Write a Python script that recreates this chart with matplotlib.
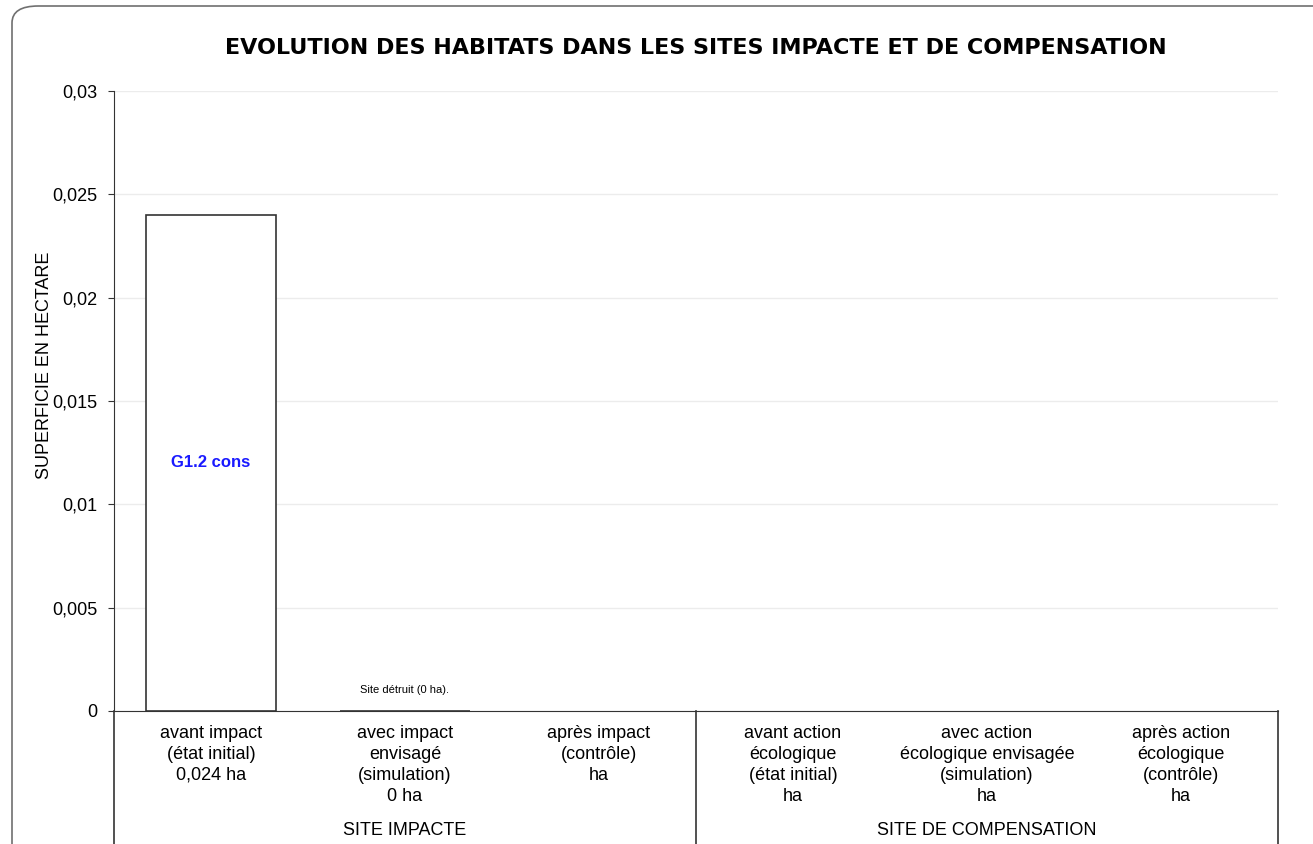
import matplotlib.pyplot as plt
from matplotlib.patches import FancyBboxPatch
import numpy as np

# donnees
etapes = ["avant impact\n(état initial)", "avec impact\nenvisagé\n(simulation)", "après impact\n(contrôle)",
          "avant action\nécologique\n(état initial)", "avec action\nécologique envisagée\n(simulation)",
          "après action\nécologique\n(contrôle)"]
surfaces = [0.024, 0.0, np.nan, np.nan, np.nan, np.nan]
surfaces_txt = ["0,024 ha", "0 ha", "ha", "ha", "ha", "ha"]
habitat = "G1.2 cons"
groupes = ["SITE IMPACTE", "SITE DE COMPENSATION"]
yticks = [0, 0.005, 0.01, 0.015, 0.02, 0.025, 0.03]

plt.rcParams['font.family'] = ['Liberation Sans', 'DejaVu Sans']

fig = plt.figure(figsize=(13.13, 8.44), dpi=100)
ax = fig.add_axes([0.0868, 0.1576, 0.8865, 0.7346])

# cadre arrondi autour du graphique
cadre = FancyBboxPatch((12 / 1313, -0.05), 1.05, 1 - 6 / 844 + 0.05, boxstyle="round,pad=0,rounding_size=0.02",
                       transform=fig.transFigure, fill=False, edgecolor='#707070', linewidth=1.2, clip_on=False)
fig.patches.append(cadre)

x = np.arange(len(etapes))
ax.bar(x, surfaces, width=0.67, color='white', edgecolor='#333333', linewidth=1.2, zorder=2)
ax.text(0, surfaces[0] / 2, habitat, color='#1a1aff', fontsize=12, fontweight='bold', ha='center', va='center', zorder=4)
ax.text(1, 0.00075, "Site détruit (0 ha).", fontsize=8, ha='center', va='bottom')

ax.set_xlim(-0.5, 5.5)
ax.set_ylim(0, 0.03)
ax.set_yticks(yticks)
ax.set_yticklabels([f"{v:g}".replace('.', ',') for v in yticks], fontsize=13)
ax.grid(axis='y', color='#ececec', linewidth=1, zorder=0)
ax.set_xticks([])
ax.tick_params(axis='y', length=4, color='#333333', pad=8)
for s in ['top', 'right']:
    ax.spines[s].set_visible(False)
ax.spines['left'].set_color('#333333')
ax.spines['bottom'].set_color('#333333')
ax.spines['bottom'].set_zorder(3)

# libelles des etapes sous l'axe
trans = ax.get_xaxis_transform()
for i in range(len(etapes)):
    ax.text(i, -0.022, etapes[i] + "\n" + surfaces_txt[i], transform=trans, ha='center', va='top',
            fontsize=13, linespacing=1.32)
ax.text(1, -0.192, groupes[0], transform=trans, ha='center', va='center', fontsize=13)
ax.text(4, -0.192, groupes[1], transform=trans, ha='center', va='center', fontsize=13)
for xs in [-0.5, 2.5, 5.5]:
    ax.plot([xs, xs], [0, -0.4], transform=trans, color='#333333', linewidth=1.2, clip_on=False)

fig.text(0.53, 0.943, "EVOLUTION DES HABITATS DANS LES SITES IMPACTE ET DE COMPENSATION",
         ha='center', va='center', fontsize=16, fontweight='heavy', family='DejaVu Sans')
fig.text(0.034, 0.567, "SUPERFICIE EN HECTARE", rotation=90, ha='center', va='center', fontsize=13)

fig.savefig("out.png", dpi=100)
